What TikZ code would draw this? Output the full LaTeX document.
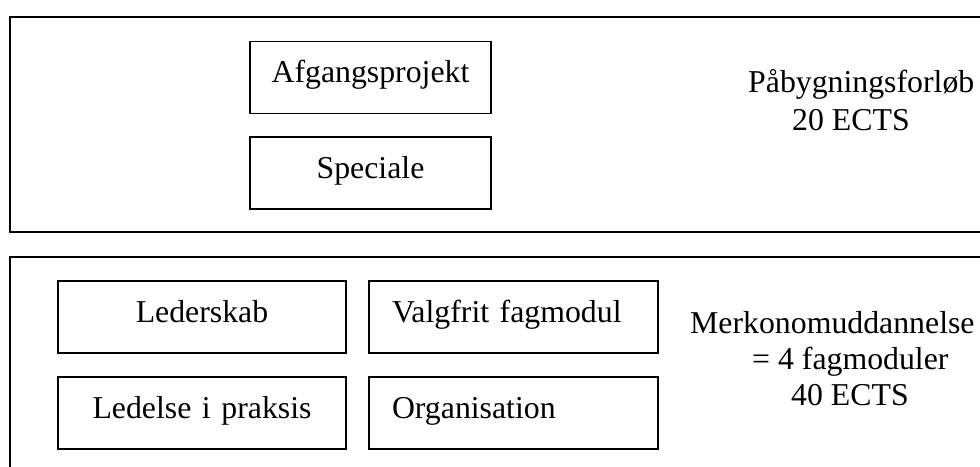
\documentclass[tikz,border=0pt]{standalone}
\usepackage{fontspec}
\setmainfont{Liberation Serif}
\begin{document}
\begin{tikzpicture}[x=1pt,y=-1pt,
  every node/.style={font=\fontsize{31.8}{38}\selectfont},
  frame/.style={draw, line width=1.8pt},
  modbox/.style={draw, line width=1.7pt, inner xsep=0pt, inner ysep=0pt,
    text height=22pt, text depth=12pt, minimum height=72pt},
  cbox/.style={modbox, align=center, text width=#1},
  lbox/.style={modbox, align=left, inner xsep=23pt, text width=#1},
  lbl/.style={inner sep=0pt, anchor=base west}]
\useasboundingbox (0,0) rectangle (980,466);
\clip (0,0) rectangle (980,466);
% outer frames
\draw[frame] (10,17) rectangle (1000,232);
\draw[frame] (10,257) rectangle (1000,490);
% upper part
\node[cbox=241pt] (afg) at (370.5,77.5) {Afgangsprojekt};
\node[cbox=241pt] (spec) at (370.5,173) {Speciale};
\node[lbl] (pab1) at (748,92) {Påbygningsforløb};
\node[lbl] (pab2) at (792,130) {20 ECTS};
% lower part
\node[cbox=288pt] (led) at (202,317) {Lederskab};
\node[cbox=288pt] (ledp) at (202,413) {Ledelse i praksis};
\node[lbox=243pt] (valg) at (513.5,317) {Valgfrit fagmodul};
\node[lbox=243pt] (org) at (513.5,413) {Organisation};
\node[lbl] (mer1) at (690,333) {Merkonomuddannelse};
\node[lbl] (mer2) at (752,369) {= 4 fagmoduler};
\node[lbl] (mer3) at (791,405) {40 ECTS};
\end{tikzpicture}
\end{document}
